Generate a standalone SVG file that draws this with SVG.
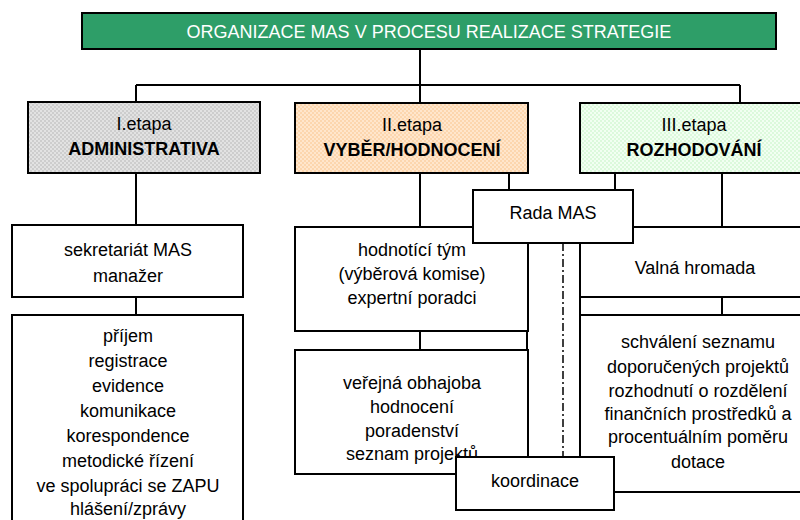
<svg xmlns="http://www.w3.org/2000/svg" width="800" height="520" viewBox="0 0 800 520">
<defs>
<pattern id="pGray" width="4" height="4" patternUnits="userSpaceOnUse"><rect width="4" height="4" fill="#e2e2e2"/><rect width="2" height="2" fill="#cdcdcd"/><rect x="2" y="2" width="2" height="2" fill="#cdcdcd"/></pattern>
<pattern id="pOrange" width="4" height="4" patternUnits="userSpaceOnUse"><rect width="4" height="4" fill="#ffe6cc"/><rect width="2" height="2" fill="#fcd6ae"/><rect x="2" y="2" width="2" height="2" fill="#fcd6ae"/></pattern>
<pattern id="pGreen" width="4" height="4" patternUnits="userSpaceOnUse"><rect width="4" height="4" fill="#f2fff2"/><rect width="2" height="2" fill="#dcf9dc"/><rect x="2" y="2" width="2" height="2" fill="#dcf9dc"/></pattern>
</defs>
<style>
.box{fill:#fff;stroke:#000;stroke-width:2}
.t{font-family:"Liberation Sans",Arial,sans-serif;font-size:18px;fill:#000;text-anchor:middle}
.b{font-weight:bold}
.w{fill:#fff}
.c{stroke:#000;stroke-width:2;fill:none}
.dd{stroke:#000;stroke-width:1.5;fill:none;stroke-dasharray:8 3 2 3}
</style>
<rect width="800" height="520" fill="#fff"/>
<g id="connectors">
<path class="c" d="M420 50V103M136 85H740M136 85V102M740 85V103"/>
<path class="c" d="M136 173V225M136 297V315"/>
<path class="c" d="M420 173V227M420 331V350M509 173V190M615 173V190M722 173V227M722 297V315"/>
<path class="c" d="M527 243V457M580 243V457"/>
<path class="dd" d="M563 243V457"/>
</g>
<g id="title">
<rect x="82" y="13" width="694" height="36" fill="#2e9e68" stroke="#000" stroke-width="2"/>
<text class="t w" x="429" y="38">ORGANIZACE MAS V PROCESU REALIZACE STRATEGIE</text>
</g>
<g id="etapa1">
<rect x="28" y="102" width="232" height="71" fill="url(#pGray)" stroke="#000" stroke-width="2"/>
<text class="t" x="144" y="130">I.etapa</text>
<text class="t b" x="144" y="155">ADMINISTRATIVA</text>
</g>
<g id="etapa2">
<rect x="295" y="103" width="233" height="70" fill="url(#pOrange)" stroke="#000" stroke-width="2"/>
<text class="t" x="412" y="131">II.etapa</text>
<text class="t b" x="412" y="156">VYBĚR/HODNOCENÍ</text>
</g>
<g id="etapa3">
<rect x="580" y="103" width="232" height="70" fill="url(#pGreen)" stroke="#000" stroke-width="2"/>
<text class="t" x="694" y="131">III.etapa</text>
<text class="t b" x="694" y="156">ROZHODOVÁNÍ</text>
</g>
<g id="sekretariat">
<rect class="box" x="12" y="225" width="231" height="72"/>
<text class="t" x="128" y="256">sekretariát MAS</text>
<text class="t" x="128" y="282">manažer</text>
</g>
<g id="cinnosti">
<rect class="box" x="12" y="315" width="231" height="215"/>
<text class="t" x="128" y="342">příjem</text>
<text class="t" x="128" y="367">registrace</text>
<text class="t" x="128" y="392">evidence</text>
<text class="t" x="128" y="417">komunikace</text>
<text class="t" x="128" y="442">korespondence</text>
<text class="t" x="128" y="467">metodické řízení</text>
<text class="t" x="128" y="492">ve spolupráci se ZAPU</text>
<text class="t" x="128" y="515">hlášení/zprávy</text>
</g>
<g id="hodnotici">
<rect class="box" x="295" y="227" width="233" height="104"/>
<text class="t" x="412" y="256">hodnotící tým</text>
<text class="t" x="412" y="280">(výběrová komise)</text>
<text class="t" x="412" y="304">expertní poradci</text>
</g>
<g id="verejna">
<rect class="box" x="295" y="350" width="233" height="124"/>
<text class="t" x="412" y="389">veřejná obhajoba</text>
<text class="t" x="412" y="413">hodnocení</text>
<text class="t" x="412" y="437">poradenství</text>
<text class="t" x="412" y="460">seznam projektů</text>
</g>
<g id="valna">
<rect class="box" x="580" y="227" width="232" height="70"/>
<text class="t" x="695" y="274">Valná hromada</text>
</g>
<g id="schvaleni">
<rect class="box" x="580" y="315" width="236" height="177"/>
<text class="t" x="698" y="348">schválení seznamu</text>
<text class="t" x="698" y="373">doporučených projektů</text>
<text class="t" x="698" y="397">rozhodnutí o rozdělení</text>
<text class="t" x="698" y="420">finančních prostředků a</text>
<text class="t" x="698" y="443">procentuálním poměru</text>
<text class="t" x="698" y="468">dotace</text>
</g>
<g id="rada">
<rect class="box" x="473" y="190" width="160" height="53"/>
<text class="t" x="553" y="219">Rada MAS</text>
</g>
<g id="koordinace">
<rect class="box" x="456" y="457" width="158" height="53"/>
<text class="t" x="535" y="487">koordinace</text>
</g>
</svg>
